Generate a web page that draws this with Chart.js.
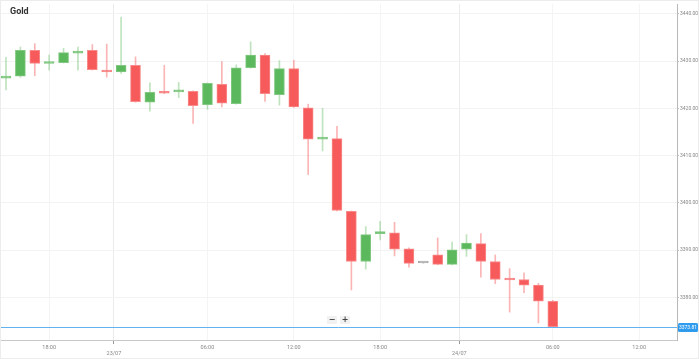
<!DOCTYPE html>
<html>
<head>
<meta charset="utf-8">
<script src="https://cdn.jsdelivr.net/npm/chart.js@4.4.1/dist/chart.umd.min.js"></script>
<style>
  html, body { margin: 0; padding: 0; background: #fff; }
  #wrap { position: relative; width: 699px; height: 359px; }
  #title { position: absolute; left: 10px; top: 6px; font: bold 9px Roboto, sans-serif; color: #333; }
  .zbtn { position: absolute; top: 316px; width: 10px; height: 8px; background: #f1f1f1; border-radius: 1px;
          font: bold 8px/8px "DejaVu Sans", sans-serif; color: #444; text-align: center; }
</style>
</head>
<body>
<div id="wrap">
  <canvas id="chart" width="699" height="359"></canvas>
  <div id="title">Gold</div>
  <div class="zbtn" style="left:327px">−</div>
  <div class="zbtn" style="left:340px">+</div>
</div>
<script>
// hourly candles
const opens = [3426.4, 3426.8, 3432.3, 3429.5, 3429.7, 3431.7, 3432.3, 3428.1, 3427.7, 3429.1,
  3421.3, 3423.4, 3423.5, 3423.6, 3420.8, 3425.1, 3421.0, 3428.6, 3431.3, 3422.9,
  3428.4, 3420.1, 3413.5, 3413.6, 3398.2, 3387.6, 3393.5, 3393.7, 3390.3, 3387.3,
  3389.0, 3387.0, 3390.2, 3391.4, 3387.6, 3383.9, 3383.8, 3382.6, 3379.2];
const highs = [3430.8, 3433.0, 3433.7, 3431.3, 3432.7, 3433.0, 3433.5, 3433.6, 3439.3, 3430.9,
  3425.4, 3429.1, 3425.5, 3423.7, 3425.4, 3429.9, 3429.2, 3434.1, 3431.6, 3430.1,
  3430.2, 3420.9, 3420.0, 3416.2, 3398.3, 3395.0, 3396.1, 3395.9, 3390.5, 3387.4,
  3392.6, 3391.7, 3393.3, 3393.5, 3389.0, 3386.1, 3385.2, 3383.0, 3379.4];
const lows = [3423.9, 3426.6, 3426.9, 3428.1, 3429.6, 3428.1, 3428.1, 3426.6, 3427.4, 3421.3,
  3419.4, 3423.1, 3422.3, 3416.8, 3419.8, 3420.3, 3420.9, 3428.5, 3421.5, 3420.7,
  3420.2, 3406.0, 3411.0, 3398.3, 3381.6, 3386.0, 3392.2, 3388.8, 3386.4, 3387.2,
  3386.9, 3386.9, 3388.7, 3384.3, 3382.9, 3376.9, 3381.0, 3374.6, 3373.7];
const closes = [3426.8, 3432.3, 3429.5, 3429.9, 3431.8, 3431.9, 3428.2, 3427.7, 3429.1, 3421.4,
  3423.4, 3423.2, 3423.7, 3420.6, 3425.3, 3421.1, 3428.6, 3431.3, 3423.1, 3428.4,
  3420.3, 3413.5, 3413.7, 3398.4, 3387.6, 3393.3, 3393.7, 3390.2, 3387.2, 3387.3,
  3387.0, 3390.1, 3391.5, 3387.6, 3383.8, 3383.7, 3382.6, 3379.2, 3373.81];

// x axis ticks (candle index) and their labels
const tickPos = [3, 7.5, 14, 20, 26, 31.5, 38, 44];
const tickLabels = ["18:00", ["", "23/07"], "06:00", "12:00", "18:00", ["", "24/07"], "06:00", "12:00"];
const dateTicks = [7.5, 31.5];
const priceTicks = [3380, 3390, 3400, 3410, 3420, 3430, 3440];
const lastPrice = closes[closes.length - 1];

const UP = "#5cb85c", DOWN = "#f65a5a", FLAT = "#aaaaaa";
const colorOf = (i) => closes[i] > opens[i] ? UP : closes[i] < opens[i] ? DOWN : FLAT;
const wickOf = (i) => closes[i] > opens[i] ? "rgba(92,184,92,0.4)" : closes[i] < opens[i] ? "rgba(246,90,90,0.45)" : "rgba(170,170,170,0.5)";
const borderOf = (i) => closes[i] > opens[i] ? "#82c882" : closes[i] < opens[i] ? "#f88a8a" : FLAT;

const bodies = opens.map((o, i) => ({ x: i, y: [o, closes[i]] }));
const wicks = lows.map((l, i) => ({ x: i, y: [l, highs[i]] }));

const priceLine = {
  id: "priceLine",
  afterDatasetsDraw(chart) {
    const { ctx, chartArea, scales } = chart;
    const y = Math.round(scales.y.getPixelForValue(lastPrice)) + 0.5;
    ctx.save();
    ctx.strokeStyle = "#62b2f0";
    ctx.lineWidth = 1;
    ctx.beginPath();
    ctx.moveTo(chartArea.left, y);
    ctx.lineTo(chartArea.right, y);
    ctx.stroke();
    ctx.fillStyle = "#2e9bef";
    ctx.beginPath();
    ctx.roundRect(chartArea.right + 1, y - 4.5, 20, 9, 1.5);
    ctx.fill();
    ctx.fillStyle = "#fff";
    ctx.font = "5px Roboto, sans-serif";
    ctx.textAlign = "center";
    ctx.textBaseline = "middle";
    ctx.fillText(lastPrice.toFixed(2), chartArea.right + 11, y);
    // outer frame
    ctx.strokeStyle = "#ececec";
    ctx.strokeRect(0.5, 0.5, chart.width - 1, chart.height - 1);
    ctx.restore();
  }
};

new Chart(document.getElementById("chart"), {
  type: "bar",
  data: {
    datasets: [
      {
        data: bodies,
        backgroundColor: bodies.map((d, i) => colorOf(i)),
        borderColor: bodies.map((d, i) => borderOf(i)),
        borderWidth: 1,
        borderSkipped: false,
        barThickness: 10,
        minBarLength: 2,
        grouped: false
      },
      {
        data: wicks,
        backgroundColor: wicks.map((d, i) => wickOf(i)),
        borderWidth: 0,
        barThickness: 1,
        grouped: false
      }
    ]
  },
  options: {
    responsive: false,
    animation: false,
    devicePixelRatio: 1,
    layout: { padding: 0 },
    plugins: { legend: { display: false }, tooltip: { enabled: false } },
    scales: {
      x: {
        type: "linear",
        offset: false,
        min: -0.417,
        max: 46.63,
        afterBuildTicks: (scale) => { scale.ticks = tickPos.map(v => ({ value: v })); },
        afterFit: (scale) => { scale.height = 19; },
        grid: {
          offset: false,
          color: (c) => dateTicks.includes(c.tick && c.tick.value) ? "#ebebeb" : "#f4f4f4",
          tickColor: (c) => dateTicks.includes(c.tick && c.tick.value) ? "#999" : "rgba(0,0,0,0)",
          tickLength: 4
        },
        border: { color: "#c8c8c8" },
        ticks: {
          autoSkip: false,
          maxRotation: 0,
          padding: 0,
          color: "#888",
          font: { family: "Roboto, sans-serif", size: 5.5 },
          callback: (v) => {
            const k = tickPos.indexOf(v);
            return k >= 0 ? tickLabels[k] : "";
          }
        }
      },
      y: {
        position: "right",
        min: 3371.0,
        max: 3442.09,
        afterBuildTicks: (scale) => { scale.ticks = priceTicks.map(v => ({ value: v })); },
        afterFit: (scale) => { scale.width = 22; },
        grid: { color: "#f3f3f3", tickColor: "#bbb", tickLength: 2 },
        border: { color: "#b8b8b8" },
        ticks: {
          padding: 1,
          color: "#888",
          font: { family: "Roboto, sans-serif", size: 5 },
          callback: (v) => Number(v).toFixed(2)
        }
      }
    }
  },
  plugins: [priceLine]
});
</script>
</body>
</html>
